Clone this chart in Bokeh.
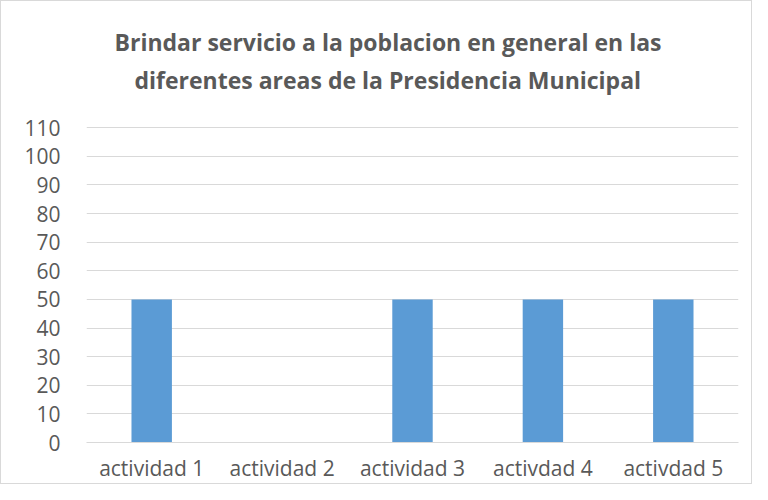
from bokeh.plotting import figure
from bokeh.models import FixedTicker, Range1d, Title
from bokeh.embed import file_html
from bokeh.resources import INLINE

categories = ["actividad 1", "actividad 2", "actividad 3", "activdad 4", "activdad 5"]
values = [50, 0, 50, 50, 50]
y_ticks = [0, 10, 20, 30, 40, 50, 60, 70, 80, 90, 100, 110]
title_lines = ["Brindar servicio a la poblacion en general en las",
               "diferentes areas de la Presidencia Municipal"]

TEXT = "#595959"
GRID = "#D9D9D9"
FONT = "Open Sans"

W, H = 752, 484
BL, BR, BT, BB = 85, 15, 125, 43

p = figure(x_range=categories, y_range=Range1d(0, 110.4), width=W, height=H,
           output_backend="svg", toolbar_location=None,
           min_border_left=BL, min_border_right=BR, min_border_top=BT, min_border_bottom=BB)
p.title = None
p.vbar(x=categories, top=values, width=0.31, color="#5B9BD5", line_color=None)

# spacer between the plot area and the title lines
p.add_layout(Title(text=" ", text_font_size="1px", standoff=26), "above")

title_offsets = [28, 48]
title_standoffs = [4, 4]
for line, off, so in reversed(list(zip(title_lines, title_offsets, title_standoffs))):
    t = Title(text=line, align="left", offset=off, standoff=so,
              text_font=FONT, text_font_size="23px", text_font_style="bold",
              text_color=TEXT)
    p.add_layout(t, "above")

p.outline_line_color = None
p.xgrid.grid_line_color = None
p.ygrid.grid_line_color = GRID
p.ygrid.grid_line_width = 1

p.yaxis.ticker = FixedTicker(ticks=y_ticks)
p.yaxis.axis_line_color = None
p.yaxis.major_tick_line_color = None
p.yaxis.minor_tick_line_color = None
p.yaxis.major_label_text_font = FONT
p.yaxis.major_label_text_font_size = "21px"
p.yaxis.major_label_text_color = TEXT
p.yaxis.major_label_standoff = 20

p.xaxis.axis_line_color = GRID
p.xaxis.major_tick_line_color = None
p.xaxis.minor_tick_line_color = None
p.xaxis.major_label_text_font = FONT
p.xaxis.major_label_text_font_size = "21px"
p.xaxis.major_label_text_color = TEXT
p.xaxis.major_label_standoff = 5

p.border_fill_color = "white"
p.styles = {"border": "1px solid #D9D9D9"}

open("out.html", "w").write(file_html(p, INLINE))
